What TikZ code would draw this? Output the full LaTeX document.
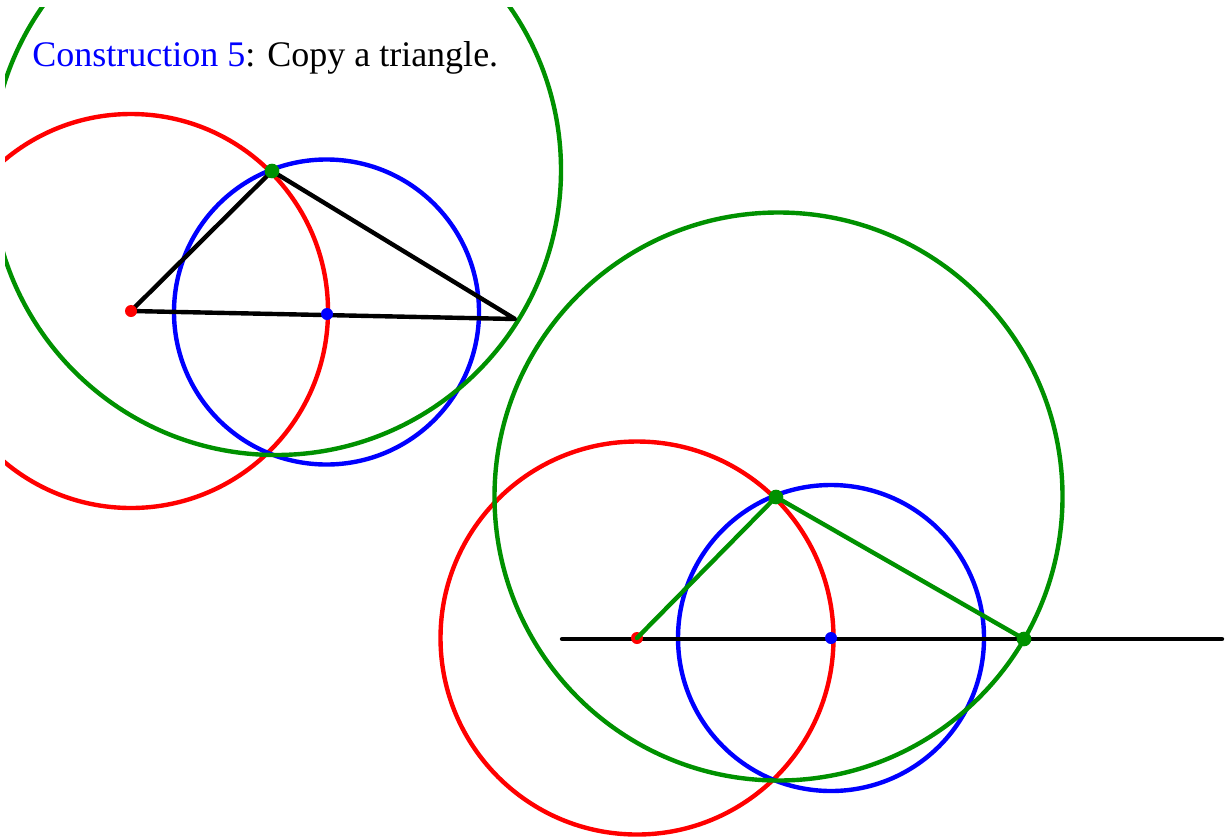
\documentclass[tikz,border=0pt]{standalone}
\usepackage{fontspec}
\setmainfont{Liberation Serif}
\definecolor{ggreen}{RGB}{0,145,0}
\tikzset{
  every picture/.style={line join=round, line cap=round},
  circ/.style={line width=3.3pt},
  seg/.style={line width=3.3pt},
  dot/.style={circle, inner sep=0pt, minimum size=9pt},
  bigdot/.style={circle, inner sep=0pt, minimum size=11pt, fill=ggreen},
}

\begin{document}
\begin{tikzpicture}[x=0.75pt,y=-0.75pt]
\useasboundingbox (0,0) rectangle (1226,839);
\clip (5,7) rectangle (1226,839);
% given triangle
\coordinate (a1) at (131,311);
\coordinate (d1) at (327,314);
\coordinate (b1) at (272,171);
\coordinate (c1) at (515,319);
\draw[circ,red] (a1) circle (197);
\draw[circ,blue] (326.5,312) circle (152.5);
\draw[circ,ggreen] (276,170) circle (285);
\draw[seg] (a1)--(b1)--(c1)--cycle;
\node[dot,fill=red] (A1) at (a1) {};
\node[dot,fill=blue] (D1) at (d1) {};
\node[bigdot] (B1) at (b1) {};
% copied triangle
\coordinate (a2) at (637,638);
\coordinate (d2) at (831,638);
\coordinate (b2) at (776,497);
\coordinate (c2) at (1024,639);
\coordinate (l0) at (562,639);
\coordinate (l1) at (1222,639);
\draw[circ,red] (a2) circle (196.5);
\draw[circ,blue] (d2) circle (153);
\draw[circ,ggreen] (778.5,496.5) circle (284);
\draw[seg] (l0)--(l1);
\node[dot,fill=red] (A2) at (a2) {};
\node[dot,fill=blue] (D2) at (d2) {};
\draw[seg,ggreen] (A2.center)--(b2)--(c2);
\node[bigdot] (B2) at (b2) {};
\node[bigdot] (C2) at (c2) {};
\node[anchor=base west,inner sep=0pt,font=\fontsize{27}{30}\selectfont] (title) at (32,66)
  {\textcolor{blue}{Construction 5}: Copy a triangle.};
\end{tikzpicture}
\end{document}
